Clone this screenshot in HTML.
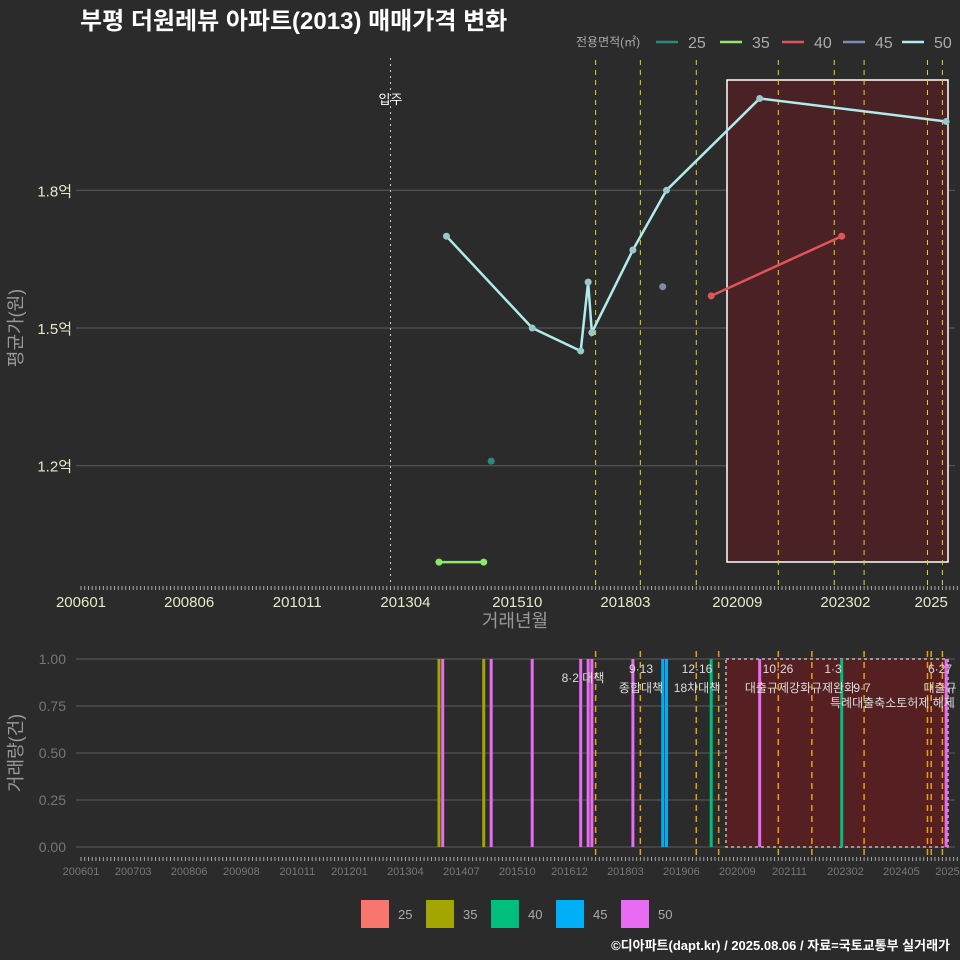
<!DOCTYPE html>
<html><head><meta charset="utf-8">
<style>
html,body{margin:0;background:#2b2b2b;width:960px;height:960px;overflow:hidden;font-family:"Liberation Sans","Noto Sans CJK KR",sans-serif}
svg{display:block}
svg text{font-family:"Liberation Sans","Noto Sans CJK KR",sans-serif}
</style></head><body>
<svg id="c" width="960" height="960" xmlns="http://www.w3.org/2000/svg">
<rect width="960" height="960" fill="#2b2b2b"/>
<text x="80" y="29" fill="#fff" font-size="24" font-weight="bold">부평 더원레뷰 아파트(2013) 매매가격 변화</text>
<g id="gtop"></g><g id="gbot"></g>
<text x="950" y="950" fill="#fff" font-size="13" font-weight="bold" text-anchor="end">©디아파트(dapt.kr) / 2025.08.06 / 자료=국토교통부 실거래가</text>
</svg>
<script>
const areas=['25','35','40','45','50'];
const lineColors=['#2a8a7a','#8ee86a','#e05555','#7c8cab','#b0ecec'];
const barColors=['#f8766d','#a3a500','#00bf7d','#00b0f6','#e76bf3'];
const s25Months=['201503'];const s25Values=[1.21];
const s35Months=['201401','201501'];const s35Values=[0.99,0.99];
const s40Months=['202002','202301'];const s40Values=[1.57,1.70];
const s45Months=['201901'];const s45Values=[1.59];
const s50Months=['201403','201602','201703','201705','201706','201805','201902','202103','202505'];
const s50Values=[1.70,1.50,1.45,1.60,1.49,1.67,1.80,2.00,1.95];
const yTicks=[1.2,1.5,1.8];const yTickLabels=['1.2억','1.5억','1.8억'];
const xTickLabelsTop=['200601','200806','201011','201304','201510','201803','202009','202302','2025'];
const xTickLabelsBot=['200601','200703','200806','200908','201011','201201','201304','201407','201510','201612','201803','201906','202009','202111','202302','202405','202507'];
const policyTop=['201707','201807','201910','202108','202211','202307','202412','202504'];
const policyBot=['201707','201807','201910','202004','202108','202205','202307','202412','202501','202504'];
const volMonths=['201401','201402','201501','201503','201602','201703','201705','201706','201805','201901','201902','202002','202103','202301','202505'];
const volArea=[1,4,1,4,4,4,4,4,4,3,3,2,4,2,4];
const volCounts=[1,1,1,1,1,1,1,1,1,1,1,1,1,1,1];
const policyText=[['8·2 대책','',583],['9·13','종합대책',641],['12·16','18차대책',697],['10·26','대출규제강화',778],['1·3','규제완화',833],['','9·7',862],['6·27','대출규',940]];

const NS='http://www.w3.org/2000/svg';
function el(p,t,a){const e=document.createElementNS(NS,t);for(const k in a)e.setAttribute(k,a[k]);p.appendChild(e);return e;}
function mi(s){s=String(s);if(s.length===4)s+='01';return (+s.slice(0,4)-2006)*12+(+s.slice(4,6)-1);}
const xs=s=>81+3.729*mi(s);
const yT=v=>328-(v-1.5)*459;
const yB=v=>847-v*188;
const gTop=document.getElementById('gtop'),gBot=document.getElementById('gbot');

yTicks.forEach((v,i)=>{
 let g=el(gTop,'line',{x1:76,x2:955,y1:yT(v),y2:yT(v),stroke:'#5c5c5c','stroke-width':1});
 
 
 let t=el(gTop,'text',{x:72,y:yT(v)+6,fill:'#e8e8c8','font-size':15,'text-anchor':'end'});t.textContent=yTickLabels[i];
 
 
});
let bx=el(gTop,'rect',{x:727,y:80,width:221,height:482,fill:'#4a2226',stroke:'#fff','stroke-width':1.5});


let ip=el(gTop,'line',{x1:xs('201212'),x2:xs('201212'),y1:58,y2:586,stroke:'#ccc','stroke-dasharray':'2,4'});


let it=el(gTop,'text',{x:xs('201212'),y:104,fill:'#fff','font-size':13,'text-anchor':'middle'});it.textContent='입주';


policyTop.forEach(m=>{let l=el(gTop,'line',{x1:xs(m),x2:xs(m),y1:60,y2:586,stroke:'#d8d820','stroke-dasharray':'5,5'});
 
 });
for(let m=0;m<=236;m++){let l=el(gTop,'line',{x1:81+3.729*m,x2:81+3.729*m,y1:586,y2:590,stroke:'#aaa','stroke-width':1});
 
 
 let l2=el(gBot,'line',{x1:81+3.729*m,x2:81+3.729*m,y1:857,y2:861,stroke:'#aaa','stroke-width':1});
 
 }
xTickLabelsTop.forEach(s=>{let t=el(gTop,'text',{x:xs(s),y:607,fill:'#e8e8c8','font-size':15,'text-anchor':'middle'});t.textContent=s;
 
 });
let xt=el(gTop,'text',{x:515,y:627,fill:'#999','font-size':18,'text-anchor':'middle'});xt.textContent='거래년월';


let yt=el(gTop,'text',{x:22,y:328,fill:'#999','font-size':18,'text-anchor':'middle',transform:'rotate(-90 22 328)'});yt.textContent='평균가(원)';


const series=[[s25Months,s25Values],[s35Months,s35Values],[s40Months,s40Values],[s45Months,s45Values],[s50Months,s50Values]];
series.forEach((s,i)=>{
 const c=lineColors[i];
 if(s[0].length>1){let p=el(gTop,'polyline',{points:s[0].map((m,j)=>xs(m)+','+yT(s[1][j])).join(' '),fill:'none',stroke:c,'stroke-width':2.5});
  
  }
 s[0].forEach((m,j)=>{let d=el(gTop,'circle',{cx:xs(m),cy:yT(s[1][j]),r:3.5,fill:i==4?'#9cc8cc':c});
  
  });
});
let lt=el(gTop,'text',{x:576,y:46,fill:'#aaa','font-size':12});lt.textContent='전용면적(㎡)';


[656,720,782,843,902].forEach((lx,i)=>{
 let l=el(gTop,'line',{x1:lx,x2:lx+22,y1:42,y2:42,stroke:lineColors[i],'stroke-width':2.5});
 
 
 let t=el(gTop,'text',{x:lx+32,y:48,fill:'#aaa','font-size':16});t.textContent=areas[i];
 
 
});
[0,0.25,0.5,0.75,1].forEach(v=>{
 let g=el(gBot,'line',{x1:76,x2:955,y1:yB(v),y2:yB(v),stroke:'#5c5c5c'});
 
 
 let t=el(gBot,'text',{x:66,y:yB(v)+5,fill:'#777','font-size':14,'text-anchor':'end'});t.textContent=v.toFixed(2);
 
 
});
let bb=el(gBot,'rect',{x:726,y:659,width:222,height:188,fill:'#561f22',stroke:'#bbb','stroke-dasharray':'3,3','stroke-width':1.5});


volMonths.forEach((m,i)=>{
 let r=el(gBot,'rect',{x:xs(m)-1.5,y:yB(volCounts[i]),width:3,height:yB(0)-yB(volCounts[i]),fill:barColors[volArea[i]]});
 
 
});
policyBot.forEach(m=>{let l=el(gBot,'line',{x1:xs(m),x2:xs(m),y1:651,y2:858,stroke:'#e8a010','stroke-width':1.5,'stroke-dasharray':'6,5'});
 
 });
policyText.forEach(p=>{
 if(p[0]){let t=el(gBot,'text',{x:p[2],y:p[1]?673:682,fill:'#ddd','font-size':12,'text-anchor':'middle'});t.textContent=p[0];
  
  }
 if(p[1]){let t=el(gBot,'text',{x:p[2],y:692,fill:'#ddd','font-size':12,'text-anchor':'middle'});t.textContent=p[1];
  
  }
});
let t2=el(gBot,'text',{x:830,y:707,fill:'#ddd','font-size':12});t2.textContent='특례대출축소토허제 해제';


xTickLabelsBot.forEach(s=>{let t=el(gBot,'text',{x:xs(s),y:875,fill:'#777','font-size':11,'text-anchor':'middle'});t.textContent=s;
 
 });
let yb=el(gBot,'text',{x:22,y:753,fill:'#999','font-size':18,'text-anchor':'middle',transform:'rotate(-90 22 753)'});yb.textContent='거래량(건)';


[361,426,491,556,621].forEach((lx,i)=>{
 let r=el(gBot,'rect',{x:lx,y:900,width:28,height:28,fill:barColors[i]});
 
 
 let t=el(gBot,'text',{x:lx+37,y:919,fill:'#aaa','font-size':13});t.textContent=areas[i];
 
 
});
</script>
</body></html>
